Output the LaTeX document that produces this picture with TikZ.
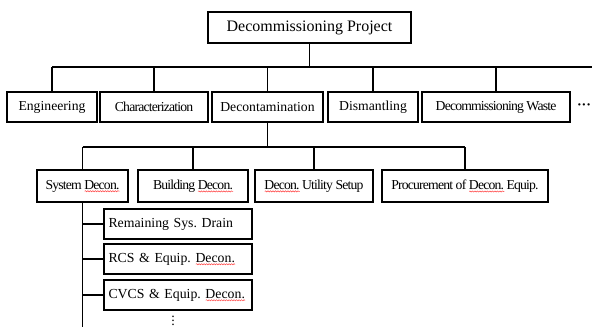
\documentclass[tikz,border=0pt]{standalone}
\usepackage{fontspec}
\setmainfont{Liberation Serif}
\newfontfamily\tight[LetterSpace=-6]{Liberation Serif}
\usetikzlibrary{calc,decorations.pathmorphing}
\newcommand\spell[1]{\setbox0\hbox{#1}\rlap{\tikz[baseline=0pt]\draw[red!75, line width=0.5pt,
  decorate, decoration={snake, amplitude=0.6pt, segment length=2.5pt}] (0pt,-2.2pt) -- (\the\wd0,-2.2pt);}\box0\relax}
\frenchspacing

\begin{document}
\begin{tikzpicture}[x=1pt, y=-1pt,
    box/.style={draw, line width=1.5pt, inner sep=0pt, minimum height=30pt,
      font=\fontsize{13.7}{16}\selectfont},
    subbox/.style={box, text width=139pt, inner xsep=4.5pt, align=left,
      font=\fontsize{13.8}{16}\selectfont},
    wire/.style={line width=1.5pt}]
      \useasboundingbox (0,0) rectangle (592,327);
      \node[box, minimum width=203pt, minimum height=31pt, font=\fontsize{16}{18}\selectfont]
        (proj) at (309.5,27.5) {Decommissioning Project};

      \node[box, minimum width=90pt]  (eng)    at (52,107)    {Engineering};
      \node[box, minimum width=108pt] (char)   at (154,107)   {\tight Characterization};
      \node[box, minimum width=111pt] (decont) at (267.5,107) {Decontamination};
      \node[box, minimum width=90pt]  (dism)   at (373,107)   {Dismantling};
      \node[box, minimum width=148pt] (waste)  at (496,107)   {\tight Decommissioning Waste};
      \node[inner sep=0pt, font=\fontsize{14}{16}\bfseries] (more) at (584,107) {···};

      \node[box, minimum width=91pt,  minimum height=32pt] (sys)  at (82.5,186) {\tight System \spell{Decon.}};
      \node[box, minimum width=110pt, minimum height=32pt] (bldg) at (193,186)  {\tight Building \spell{Decon.}};
      \node[box, minimum width=118pt, minimum height=32pt] (util) at (314,186)  {\tight \spell{Decon.} Utility Setup};
      \node[box, minimum width=166pt, minimum height=32pt] (proc) at (465,186)  {\tight Procurement of \spell{Decon.} Equip.};

      \foreach \y/\n/\t in {224/drain/{Remaining Sys. Drain},
                            259/rcs/{RCS \& Equip. \spell{Decon.}},
                            295/cvcs/{CVCS \& Equip. \spell{Decon.}}}{
        \node[subbox] (\n) at (178,\y) {\t};
      }
      \node[inner sep=0pt, font=\fontsize{14}{16}\selectfont] (vdots) at (173,318) {$\vdots$};

      \coordinate (bar1) at (0,67);
      \coordinate (bar1end) at (592,67);
      \draw[wire] (proj.south) -- (proj.south |- bar1);
      \draw[wire] (eng.north |- bar1) -- (bar1end);
      \foreach \n in {eng,char,decont,dism,waste}{
        \draw[wire] (\n.north) -- (\n.north |- bar1);
      }

      \coordinate (bar2) at (0,147);
      \draw[wire] (decont.south) -- (decont.south |- bar2);
      \draw[wire] (sys.north |- bar2) -- (proc.north |- bar2);
      \foreach \n in {sys,bldg,util,proc}{
        \draw[wire] (\n.north) -- (\n.north |- bar2);
      }

      \coordinate (sysend) at (82.5,327);
      \draw[wire] (sys.south) -- (sysend);
      \foreach \n in {drain,rcs,cvcs}{
        \draw[wire] (sys.south |- \n.west) -- (\n.west);
      }
    \end{tikzpicture}
\end{document}
